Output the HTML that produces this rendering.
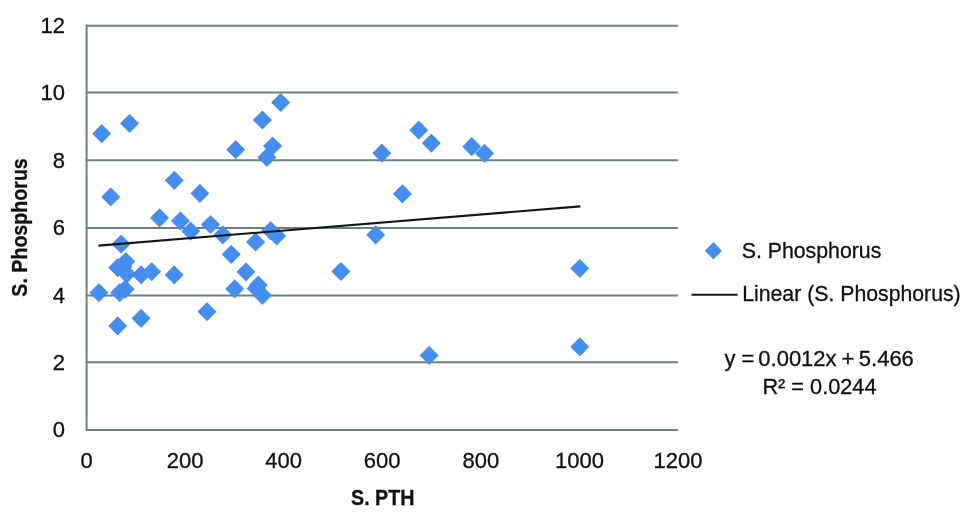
<!DOCTYPE html>
<html lang="en"><head><meta charset="utf-8"><title>S. Phosphorus vs S. PTH</title>
<style>html,body{margin:0;padding:0;background:#fff}svg{display:block}text{font-family:"Liberation Sans",sans-serif;fill:#111;stroke:#111;stroke-width:.3px}</style></head><body>
<svg width="976" height="515" viewBox="0 0 976 515">
<rect width="976" height="515" fill="#fff"/>
<g stroke="#70807f" stroke-width="2" fill="none">
<line x1="85.7" y1="25.7" x2="677.9" y2="25.7"/>
<line x1="85.7" y1="92.4" x2="677.9" y2="92.4"/>
<line x1="85.7" y1="160.2" x2="677.9" y2="160.2"/>
<line x1="85.7" y1="228.0" x2="677.9" y2="228.0"/>
<line x1="85.7" y1="295.5" x2="677.9" y2="295.5"/>
<line x1="85.7" y1="362.3" x2="677.9" y2="362.3"/>
<line x1="85.7" y1="430.0" x2="677.9" y2="430.0"/>
<line x1="86.6" y1="24.6" x2="86.6" y2="430.9"/>
</g>
<g fill="#458ef0" stroke="#458ef0" stroke-width="1.2" stroke-linejoin="round">
<path d="M101.7 125.0L110.4 133.7L101.7 142.4L93.0 133.7Z"/>
<path d="M129.6 114.7L138.3 123.4L129.6 132.1L120.9 123.4Z"/>
<path d="M235.7 141.0L244.4 149.7L235.7 158.4L227.0 149.7Z"/>
<path d="M262.4 111.3L271.1 120.0L262.4 128.7L253.7 120.0Z"/>
<path d="M272.6 137.3L281.3 146.0L272.6 154.7L263.9 146.0Z"/>
<path d="M266.9 148.6L275.6 157.3L266.9 166.0L258.2 157.3Z"/>
<path d="M280.7 93.8L289.4 102.5L280.7 111.2L272.0 102.5Z"/>
<path d="M174.3 171.6L183.0 180.3L174.3 189.0L165.6 180.3Z"/>
<path d="M110.7 188.2L119.4 196.9L110.7 205.6L102.0 196.9Z"/>
<path d="M199.9 184.7L208.6 193.4L199.9 202.1L191.2 193.4Z"/>
<path d="M159.5 209.1L168.2 217.8L159.5 226.5L150.8 217.8Z"/>
<path d="M180.4 212.2L189.1 220.9L180.4 229.6L171.7 220.9Z"/>
<path d="M190.7 222.4L199.4 231.1L190.7 239.8L182.0 231.1Z"/>
<path d="M210.5 215.8L219.2 224.5L210.5 233.2L201.8 224.5Z"/>
<path d="M222.8 226.1L231.5 234.8L222.8 243.5L214.1 234.8Z"/>
<path d="M121.1 235.5L129.8 244.2L121.1 252.9L112.4 244.2Z"/>
<path d="M125.8 252.8L134.5 261.5L125.8 270.2L117.1 261.5Z"/>
<path d="M231.2 245.6L239.9 254.3L231.2 263.0L222.5 254.3Z"/>
<path d="M255.6 233.3L264.3 242.0L255.6 250.7L246.9 242.0Z"/>
<path d="M270.6 222.0L279.3 230.7L270.6 239.4L261.9 230.7Z"/>
<path d="M276.7 227.1L285.4 235.8L276.7 244.5L268.0 235.8Z"/>
<path d="M117.7 259.0L126.4 267.7L117.7 276.4L109.0 267.7Z"/>
<path d="M123.0 257.8L131.7 266.5L123.0 275.2L114.3 266.5Z"/>
<path d="M126.8 265.1L135.5 273.8L126.8 282.5L118.1 273.8Z"/>
<path d="M141.1 266.1L149.8 274.8L141.1 283.5L132.4 274.8Z"/>
<path d="M151.7 263.0L160.4 271.7L151.7 280.4L143.0 271.7Z"/>
<path d="M174.2 266.1L182.9 274.8L174.2 283.5L165.5 274.8Z"/>
<path d="M98.9 283.9L107.6 292.6L98.9 301.3L90.2 292.6Z"/>
<path d="M119.7 283.9L128.4 292.6L119.7 301.3L111.0 292.6Z"/>
<path d="M125.2 280.4L133.9 289.1L125.2 297.8L116.5 289.1Z"/>
<path d="M117.7 317.1L126.4 325.8L117.7 334.5L109.0 325.8Z"/>
<path d="M141.1 309.6L149.8 318.3L141.1 327.0L132.4 318.3Z"/>
<path d="M246.0 263.1L254.7 271.8L246.0 280.5L237.3 271.8Z"/>
<path d="M234.7 280.1L243.4 288.8L234.7 297.5L226.0 288.8Z"/>
<path d="M258.3 276.4L267.0 285.1L258.3 293.8L249.6 285.1Z"/>
<path d="M256.2 279.8L264.9 288.5L256.2 297.2L247.5 288.5Z"/>
<path d="M262.4 286.6L271.1 295.3L262.4 304.0L253.7 295.3Z"/>
<path d="M207.0 303.0L215.7 311.7L207.0 320.4L198.3 311.7Z"/>
<path d="M381.8 144.5L390.5 153.2L381.8 161.9L373.1 153.2Z"/>
<path d="M418.8 121.5L427.5 130.2L418.8 138.9L410.1 130.2Z"/>
<path d="M431.3 134.4L440.0 143.1L431.3 151.8L422.6 143.1Z"/>
<path d="M471.7 137.9L480.4 146.6L471.7 155.3L463.0 146.6Z"/>
<path d="M484.6 144.7L493.3 153.4L484.6 162.1L475.9 153.4Z"/>
<path d="M402.4 185.1L411.1 193.8L402.4 202.5L393.7 193.8Z"/>
<path d="M375.7 226.1L384.4 234.8L375.7 243.5L367.0 234.8Z"/>
<path d="M340.9 262.8L349.6 271.5L340.9 280.2L332.2 271.5Z"/>
<path d="M579.8 259.7L588.5 268.4L579.8 277.1L571.1 268.4Z"/>
<path d="M579.8 338.1L588.5 346.8L579.8 355.5L571.1 346.8Z"/>
<path d="M429.1 346.7L437.8 355.4L429.1 364.1L420.4 355.4Z"/>
<path d="M713.4 243.0L721.2 250.8L713.4 258.6L705.6 250.8Z"/>
</g>
<g stroke="#161616" stroke-width="2.1" stroke-linecap="butt">
<line x1="98.4" y1="245.6" x2="580.4" y2="206.4"/>
<line x1="691.5" y1="294.8" x2="737.6" y2="294.8"/>
</g>
<g font-size="22" text-anchor="end">
<text id="yl0" x="65" y="33.1">12</text>
<text id="yl1" x="65" y="99.8">10</text>
<text id="yl2" x="65" y="167.6">8</text>
<text id="yl3" x="65" y="235.4">6</text>
<text id="yl4" x="65" y="302.9">4</text>
<text id="yl5" x="65" y="369.7">2</text>
<text id="yl6" x="65" y="437.4">0</text>
</g>
<g font-size="22" text-anchor="middle">
<text id="xl0" x="86.6" y="468.3">0</text>
<text id="xl1" x="185.1" y="468.3">200</text>
<text id="xl2" x="283.7" y="468.3">400</text>
<text id="xl3" x="382.2" y="468.3">600</text>
<text id="xl4" x="480.8" y="468.3">800</text>
<text id="xl5" x="579.4" y="468.3">1000</text>
<text id="xl6" x="677.9" y="468.3">1200</text>
</g>
<text id="xt" x="351" y="505" font-size="21.5" font-weight="bold" stroke="none" textLength="63.5" lengthAdjust="spacingAndGlyphs">S. PTH</text>
<text id="yt" transform="translate(26.5 296.7) rotate(-90)" font-size="21.5" font-weight="bold" stroke="none" textLength="138.5" lengthAdjust="spacingAndGlyphs">S. Phosphorus</text>
<text id="lg1" x="741.7" y="257.8" font-size="22" textLength="139.6" lengthAdjust="spacingAndGlyphs">S. Phosphorus</text>
<text id="lg2" x="742.2" y="300.8" font-size="22" textLength="218.5" lengthAdjust="spacingAndGlyphs">Linear (S. Phosphorus)</text>
<text id="eq1" y="366.2" font-size="22"><tspan id="e1" x="724.6">y</tspan> <tspan id="e2" x="741.6">=</tspan> <tspan id="e3" x="758.3">0.0012x</tspan> <tspan id="e4" x="841.5">+</tspan> <tspan id="e5" x="858.8">5.466</tspan></text>
<text id="eq2" x="762.4" y="394.1" font-size="21.5" textLength="114.1" lengthAdjust="spacingAndGlyphs">R² = 0.0244</text>
</svg></body></html>
